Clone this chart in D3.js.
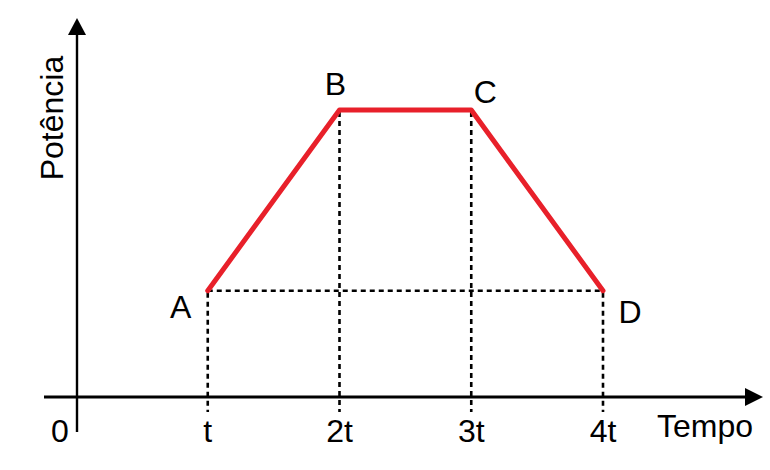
<!DOCTYPE html>
<html>
<head>
<meta charset="utf-8">
<script src="https://cdn.jsdelivr.net/npm/d3@7"></script>
<style>
  html, body { margin: 0; padding: 0; background: #fff; }
  svg text { font-family: "Liberation Sans", Arial, sans-serif; fill: #000; }
</style>
</head>
<body>
<div id="chart"></div>
<script>
// dados do gráfico
const pontos = ['A', 'B', 'C', 'D'];
const tempos = [1, 2, 3, 4];
const potencias = [1, 2.7, 2.7, 1];
const rotulosTempo = ['0', 't', '2t', '3t', '4t'];
const eixoX = 'Tempo';
const eixoY = 'Potência';

const width = 770, height = 470;

const svg = d3.select('#chart').append('svg')
  .attr('width', width)
  .attr('height', height);

const x = d3.scaleLinear().domain([0, 4]).range([76, 603]);
const y = d3.scaleLinear().domain([0, 2.7]).range([397, 110]);

const dados = pontos.map((p, i) => ({ nome: p, t: tempos[i], p: potencias[i] }));

// linhas pontilhadas
const guias = svg.append('g')
  .attr('stroke', '#000')
  .attr('stroke-width', 2.6)
  .attr('stroke-dasharray', '5 4')
  .attr('fill', 'none');

guias.selectAll('line.v').data(dados)
  .join('line')
  .attr('class', 'v')
  .attr('x1', d => x(d.t)).attr('x2', d => x(d.t))
  .attr('y1', d => y(d.p) + 2).attr('y2', y(0) + 15);

guias.append('line')
  .attr('x1', x(tempos[0])).attr('x2', x(tempos[3]))
  .attr('y1', y(potencias[0])).attr('y2', y(potencias[3]));

// eixos
const eixos = svg.append('g').attr('stroke', '#000');
eixos.append('line')
  .attr('x1', 77).attr('x2', 77)
  .attr('y1', 432).attr('y2', 34)
  .attr('stroke-width', 2.4);
eixos.append('line')
  .attr('x1', 44).attr('x2', 746)
  .attr('y1', y(0)).attr('y2', y(0))
  .attr('stroke-width', 3);

svg.append('path')
  .attr('d', 'M77,18 L86,35 L68,35 Z')
  .attr('fill', '#000');
svg.append('path')
  .attr('d', `M763,${y(0)} L745,${y(0) - 9} L745,${y(0) + 9} Z`)
  .attr('fill', '#000');

// curva de potência
const linha = d3.line().x(d => x(d.t)).y(d => y(d.p));
svg.append('path')
  .datum(dados)
  .attr('d', linha)
  .attr('fill', 'none')
  .attr('stroke', '#e8202a')
  .attr('stroke-width', 5)
  .attr('stroke-linejoin', 'round')
  .attr('stroke-linecap', 'round');

// rótulos de tempo
svg.append('g').selectAll('text').data(rotulosTempo)
  .join('text')
  .attr('x', (d, i) => i === 0 ? 60 : x(i))
  .attr('y', 442)
  .attr('text-anchor', 'middle')
  .attr('font-size', 32)
  .text(d => d);

// rótulos dos pontos
const desloc = { A: [-27, 27], B: [-4, -15], C: [14, -7], D: [27, 32] };
svg.append('g').selectAll('text').data(dados)
  .join('text')
  .attr('x', d => x(d.t) + desloc[d.nome][0])
  .attr('y', d => y(d.p) + desloc[d.nome][1])
  .attr('text-anchor', 'middle')
  .attr('font-size', 32)
  .text(d => d.nome);

// títulos dos eixos
svg.append('text')
  .attr('x', 705).attr('y', 437)
  .attr('text-anchor', 'middle')
  .attr('font-size', 32)
  .text(eixoX);

svg.append('text')
  .attr('transform', 'translate(63,118) rotate(-90)')
  .attr('text-anchor', 'middle')
  .attr('font-size', 32)
  .text(eixoY);
</script>
</body>
</html>
